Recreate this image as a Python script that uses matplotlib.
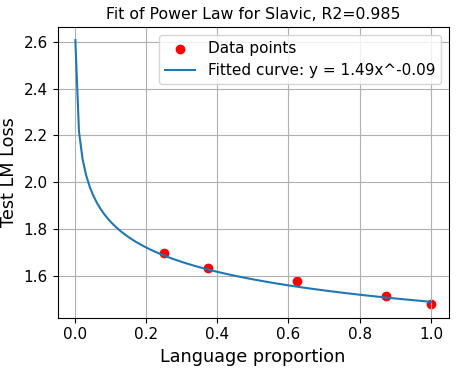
import matplotlib
matplotlib.use("Agg")
import matplotlib.pyplot as plt
import numpy as np

# observed points
proportion = [0.25, 0.375, 0.625, 0.875, 1.0]
loss = [1.699, 1.634, 1.577, 1.516, 1.479]

# fitted power law parameters (y = a * x^b)
a_fit = 1.49
b_fit = -0.09
r2 = 0.985
x_start = 0.002


def power_law(x, a, b):
    return a * np.power(x, b)


def plot_fit():
    x_curve = np.linspace(x_start, 1.0, 100)
    y_curve = power_law(x_curve, a_fit, b_fit)

    fig = plt.figure(figsize=(4.57, 3.68), dpi=100)
    ax = fig.add_axes([0.126, 0.137, 0.856, 0.79])
    ax.scatter(proportion, loss, color='red', label='Data points')
    ax.plot(x_curve, y_curve, label=f'Fitted curve: y = {a_fit:.2f}x^{b_fit:.2f}')
    ax.set_title(f'Fit of Power Law for Slavic, R2={r2:.3f}', fontsize=11.3)
    ax.set_xlabel('Language proportion', fontsize=12.7)
    ax.set_ylabel('Test LM Loss', fontsize=12.7)
    ax.tick_params(labelsize=11)
    ax.legend(fontsize=11)
    ax.grid(True)
    fig.savefig('out.png', dpi=100)


if __name__ == '__main__':
    plot_fit()
